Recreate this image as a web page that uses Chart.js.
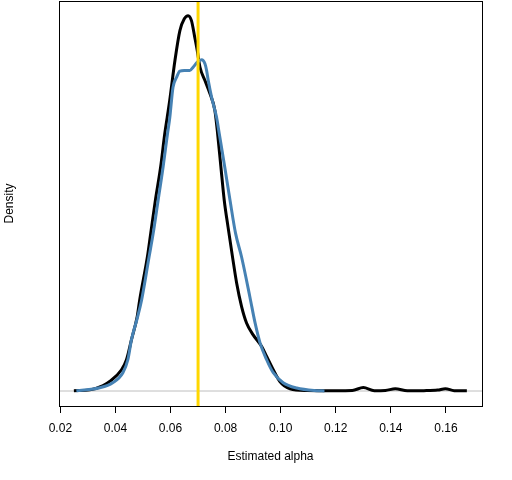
<!DOCTYPE html>
<html>
<head>
<meta charset="utf-8">
<script src="https://cdn.jsdelivr.net/npm/chart.js@4.4.0/dist/chart.umd.min.js"></script>
<style>
  body { margin: 0; background: #fff; }
  canvas { display: block; }
</style>
</head>
<body>
<canvas id="densityChart" width="512" height="480"></canvas>
<script>
// estimated alpha values (x) and density (y)
const blackX = [0.0249, 0.0307, 0.0355, 0.0379, 0.0422, 0.0440, 0.0458, 0.0479, 0.0488, 0.0516, 0.0528, 0.0545,
  0.0564, 0.0579, 0.0588, 0.0597, 0.0616, 0.0634, 0.0650, 0.0664, 0.0676, 0.0688, 0.0697, 0.0707, 0.0725, 0.0743,
  0.0761, 0.0771, 0.0783, 0.0795, 0.0809, 0.0826, 0.0840, 0.0858, 0.0876, 0.0900, 0.0931, 0.0949, 0.0973, 0.0997,
  0.1034, 0.1095, 0.1200, 0.1260, 0.1300, 0.1340, 0.1380, 0.1416, 0.1460, 0.1520, 0.1570, 0.1598, 0.1630, 0.1676];
const blackY = [0.03, 0.10, 0.47, 0.84, 1.87, 2.75, 4.50, 6.55, 8.01, 11.81, 13.87, 16.79,
  19.71, 22.64, 24.10, 25.57, 29.08, 31.71, 32.75, 33.03, 32.59, 31.12, 29.96, 28.49, 27.32, 26.18,
  24.69, 22.64, 19.69, 16.79, 14.40, 11.65, 9.51, 7.43, 5.99, 4.94, 3.91, 3.04, 1.87, 0.84,
  0.20, 0.05, 0.03, 0.05, 0.30, 0.03, 0.05, 0.20, 0.02, 0.03, 0.08, 0.20, 0.03, 0.02];

const blueX = [0.0258, 0.0343, 0.0390, 0.0427, 0.0445, 0.0458, 0.0479, 0.0495, 0.0522, 0.0537, 0.0555, 0.0573,
  0.0589, 0.0597, 0.0609, 0.0622, 0.0634, 0.0650, 0.0670, 0.0682, 0.0697, 0.0713, 0.0725, 0.0731, 0.0737, 0.0749,
  0.0767, 0.0777, 0.0797, 0.0816, 0.0836, 0.0858, 0.0888, 0.0907, 0.0925, 0.0949, 0.0973, 0.1009, 0.1058, 0.1131,
  0.1159];
const blueY = [0.03, 0.29, 0.73, 1.60, 2.75, 4.50, 6.40, 8.01, 11.79, 13.87, 16.79, 19.71,
  22.64, 23.99, 26.73, 27.61, 28.14, 28.20, 28.20, 28.49, 28.93, 29.14, 28.79, 28.20, 27.32, 25.86,
  24.10, 22.64, 19.69, 16.79, 13.89, 11.79, 8.30, 5.99, 4.24, 2.75, 1.61, 0.73, 0.26, 0.03,
  0.01];

const trueAlpha = 0.07;
const tickValues = [0.02, 0.04, 0.06, 0.08, 0.10, 0.12, 0.14, 0.16];
const xMin = 0.0195, xMax = 0.1731;
const yMin = -1.32, yMax = 34.32;

const toPoints = (xs, ys) => xs.map((x, i) => ({ x: x, y: ys[i] }));

// box round the plot, like R's box()
const boxPlugin = {
  id: 'box',
  afterDraw(chart) {
    const a = chart.chartArea;
    const c = chart.ctx;
    c.save();
    c.strokeStyle = '#000';
    c.lineWidth = 1;
    c.strokeRect(Math.round(a.left) + 0.5, Math.round(a.top) + 0.5,
      Math.round(a.right - a.left), Math.round(a.bottom - a.top));
    c.restore();
  }
};

const ctx = document.getElementById('densityChart');
const chart = new Chart(ctx, {
  type: 'scatter',
  data: {
    datasets: [
      {
        label: 'true alpha',
        data: [{ x: trueAlpha, y: yMin }, { x: trueAlpha, y: yMax }],
        borderColor: '#FFD700',
        borderWidth: 3,
        showLine: true,
        pointRadius: 0,
        order: 0
      },
      {
        label: 'blue',
        data: toPoints(blueX, blueY),
        borderColor: 'steelblue',
        borderWidth: 3,
        showLine: true,
        pointRadius: 0,
        cubicInterpolationMode: 'monotone',
        order: 1
      },
      {
        label: 'black',
        data: toPoints(blackX, blackY),
        borderColor: '#000',
        borderWidth: 3,
        showLine: true,
        pointRadius: 0,
        cubicInterpolationMode: 'monotone',
        order: 2
      },
      {
        label: 'zero',
        data: [{ x: xMin, y: 0 }, { x: xMax, y: 0 }],
        borderColor: '#bebebe',
        borderWidth: 1,
        showLine: true,
        pointRadius: 0,
        order: 3
      }
    ]
  },
  options: {
    responsive: false,
    animation: false,
    layout: { padding: { left: 0, right: 30, top: 1, bottom: 0 } },
    plugins: {
      legend: { display: false },
      tooltip: { enabled: false }
    },
    scales: {
      x: {
        type: 'linear',
        min: xMin,
        max: xMax,
        afterBuildTicks(scale) {
          scale.ticks = tickValues.map(v => ({ value: v }));
        },
        afterFit(scale) { scale.height = 74; },
        grid: {
          display: true,
          drawOnChartArea: false,
          drawTicks: true,
          tickLength: 7,
          color: '#000'
        },
        border: { display: false },
        ticks: {
          color: '#000',
          padding: 8,
          maxRotation: 0,
          font: { family: 'Liberation Sans, Arial, sans-serif', size: 12 },
          callback: v => v.toFixed(2)
        },
        title: {
          display: true,
          text: 'Estimated alpha',
          color: '#000',
          padding: { top: 0, bottom: 16 },
          font: { family: 'Liberation Sans, Arial, sans-serif', size: 12 }
        }
      },
      y: {
        min: yMin,
        max: yMax,
        afterFit(scale) { scale.width = 59; },
        grid: { display: false },
        border: { display: false },
        ticks: { display: false },
        title: {
          display: true,
          text: 'Density',
          color: '#000',
          padding: { top: 2, bottom: 0 },
          font: { family: 'Liberation Sans, Arial, sans-serif', size: 12 }
        }
      }
    }
  },
  plugins: [boxPlugin]
});
</script>
</body>
</html>
